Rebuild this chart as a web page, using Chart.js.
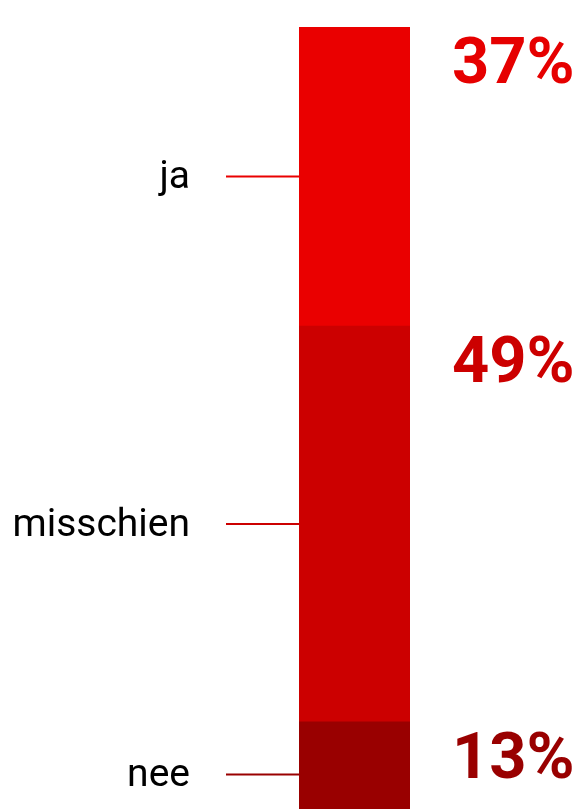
<!DOCTYPE html>
<html>
<head>
    <meta charset="utf-8" />
    <title>Poll</title>
    <script src="https://cdn.jsdelivr.net/npm/chart.js@4/dist/chart.umd.min.js"></script>
    <style>
        html, body {
            margin: 0;
            padding: 0;
            background: #ffffff;
            overflow: hidden;
        }
        canvas {
            display: block;
        }
    </style>
</head>
<body>
<canvas id="pollChart" width="580" height="827"></canvas>

<script>
    // stacked from bottom to top
    const answers = ['nee', 'misschien', 'ja'];
    const percentages = [13, 49, 37];
    const barColors = ['#990000', '#cc0000', '#ea0000'];
    const textColors = ['#990000', '#cc0000', '#e60000'];

    // draws the answer labels with leader lines and the big percentages
    const labelPlugin = {
        id: 'segmentLabels',
        afterDatasetsDraw(chart) {
            const ctx = chart.ctx;
            ctx.save();
            chart.data.datasets.forEach((ds, i) => {
                const bar = chart.getDatasetMeta(i).data[0];
                const top = Math.min(bar.y, bar.base);
                const bottom = Math.max(bar.y, bar.base);
                const mid = (top + bottom) / 2;
                const left = bar.x - bar.width / 2;
                const right = bar.x + bar.width / 2;

                // leader line
                ctx.strokeStyle = barColors[i];
                ctx.lineWidth = 2;
                ctx.beginPath();
                ctx.moveTo(left - 73, mid);
                ctx.lineTo(left, mid);
                ctx.stroke();

                // answer label
                ctx.fillStyle = '#000000';
                ctx.font = '39px Roboto';
                ctx.textAlign = 'right';
                ctx.textBaseline = 'alphabetic';
                ctx.fillText(answers[i], left - 109, mid + 12);

                // percentage
                ctx.fillStyle = textColors[i];
                ctx.font = 'bold 65px Roboto';
                ctx.textAlign = 'left';
                ctx.fillText(percentages[i] + '%', right + 42, top + 56);
            });
            ctx.restore();
        }
    };

    const pollChart = new Chart(document.getElementById('pollChart'), {
        type: 'bar',
        data: {
            labels: [''],
            datasets: answers.map((a, i) => ({
                label: a,
                data: [percentages[i]],
                backgroundColor: barColors[i],
                borderWidth: 0,
                barPercentage: 1,
                categoryPercentage: 1
            }))
        },
        options: {
            responsive: false,
            animation: false,
            layout: {
                padding: { left: 299, right: 170, top: 27, bottom: 0 }
            },
            plugins: {
                legend: { display: false },
                tooltip: { enabled: false }
            },
            scales: {
                x: { stacked: true, display: false },
                y: { stacked: true, display: false, min: 0, max: 99 }
            }
        },
        plugins: [labelPlugin]
    });
</script>
</body>
</html>
